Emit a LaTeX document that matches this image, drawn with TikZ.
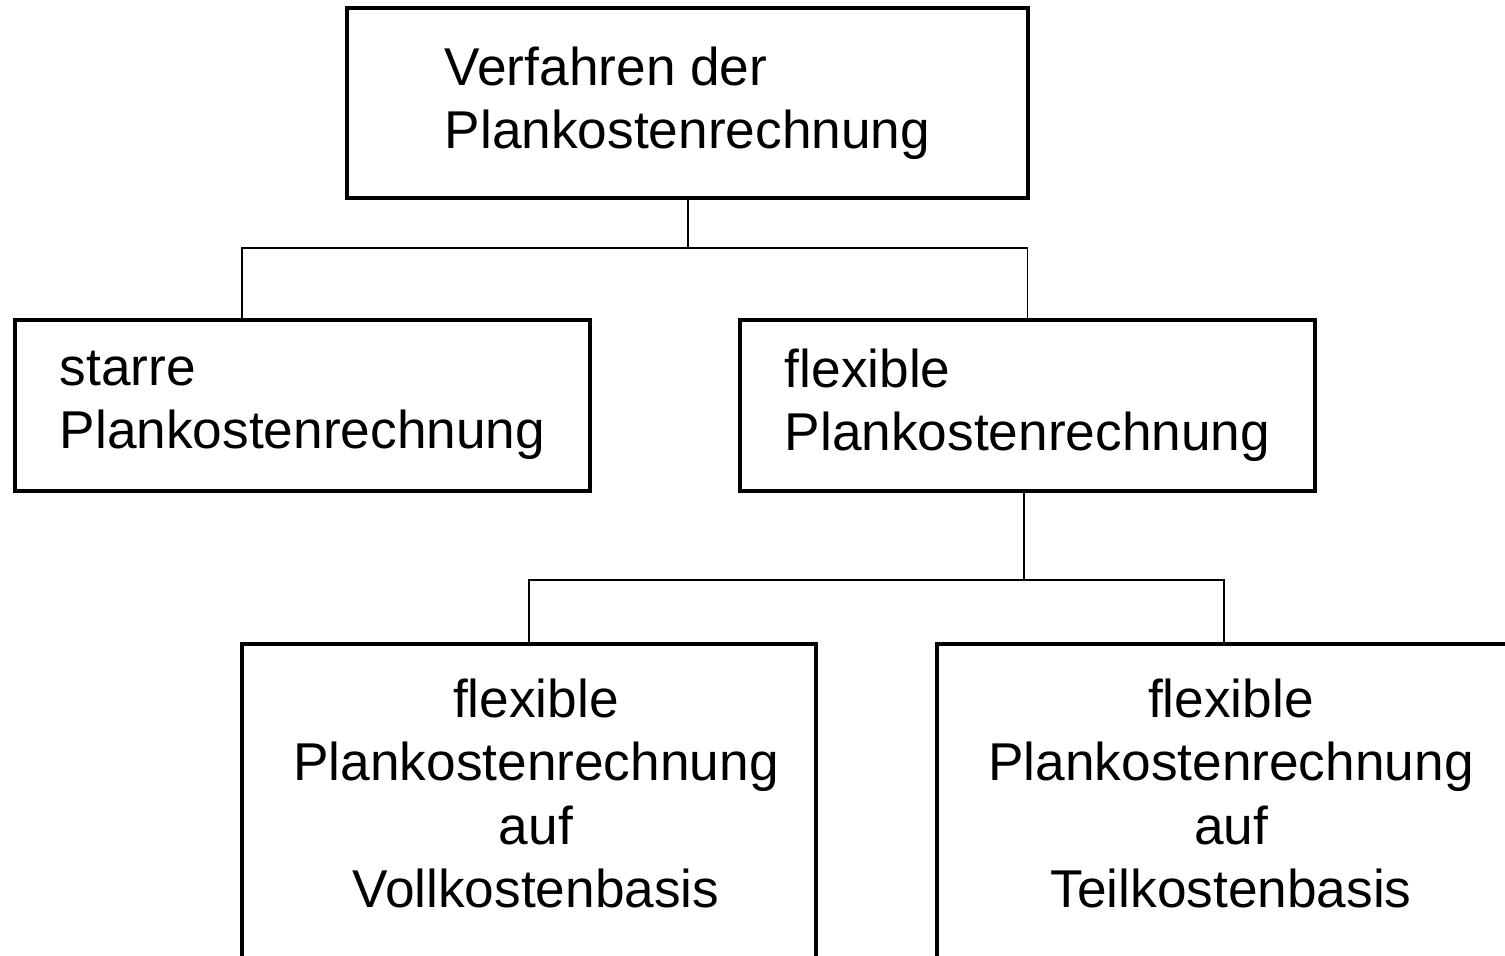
\documentclass[tikz,border=0pt]{standalone}
\usepackage{fontspec}
\setmainfont{Liberation Sans}
\usetikzlibrary{positioning}

\begin{document}
\begin{tikzpicture}[
    x=0.02cm, y=-0.02cm,
    box/.style={
        rectangle,
        draw=black,
        line width=2.3pt,
        align=left,
        inner sep=0pt,
        font=\fontsize{30.3}{35.9}\selectfont
    },
    lowbox/.style={
        rectangle,
        draw=black,
        line width=2.3pt,
        minimum width=11.48cm,
        minimum height=8cm,
        anchor=north
    },
    txt/.style={
        align=center,
        inner sep=0pt,
        font=\fontsize{30.3}{35.9}\selectfont
    },
    conn/.style={
        line width=1.1pt
    }
]
\useasboundingbox (0,0) rectangle (1505,956);
\clip (0,0) rectangle (1505,956);

% Nodes
\node (verfahren) [box, minimum width=13.62cm, minimum height=3.8cm] at (687.5,103) {Verfahren der\\Plankostenrechnung};
\node (starre) [box, minimum width=11.5cm, minimum height=3.42cm] at (302.5,405.5) {starre\\Plankostenrechnung};
\node (flexibel) [box, minimum width=11.5cm, minimum height=3.42cm] at (1027.5,405.5) {flexible\\Plankostenrechnung};

\node (voll) [lowbox] at (529,642) {};
\node (teil) [lowbox] at (1224,642) {};
\node (vollText) [txt, below=0.74cm of voll.north, xshift=0.14cm] {flexible\\Plankostenrechnung\\auf\\Vollkostenbasis};
\node (teilText) [txt, below=0.74cm of teil.north, xshift=0.14cm] {flexible\\Plankostenrechnung\\auf\\Teilkostenbasis};

\coordinate (split1) at (688,248);
\coordinate (starreIn) at (242,320);
\coordinate (split2) at (1024,580);

% Connections
\draw [conn] (verfahren.south -| split1) -- (split1);
\draw [conn] (starreIn) |- (split1) -| (flexibel.north);
\draw [conn] (flexibel.south -| split2) -- (split2);
\draw [conn] (voll.north) |- (split2) -| (teil.north);

\end{tikzpicture}
\end{document}
